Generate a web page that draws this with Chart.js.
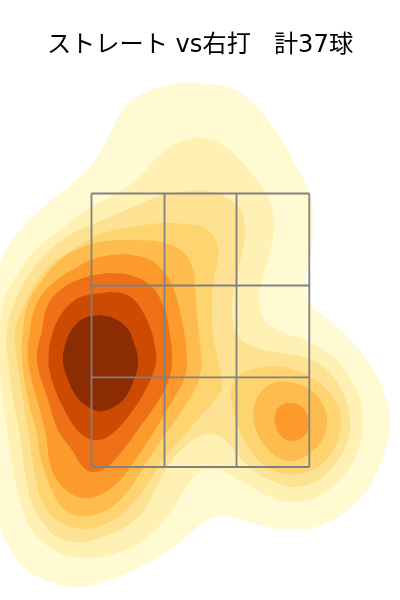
<!DOCTYPE html>
<html>
<head>
<meta charset="utf-8">
<script src="https://cdn.jsdelivr.net/npm/chart.js@4/dist/chart.umd.js"></script>
<style>
  html, body { margin: 0; padding: 0; background: #fff; }
  #chart_div { display: block; }
</style>
</head>
<body>
<canvas id="chart_div" width="400" height="600"></canvas>
<script>
var chartTitle = 'ストレート vs右打   計37球';

// strike zone edges
var zoneX = [91.5, 164.5, 236.5, 309.3];
var zoneY = [193.5, 285.5, 377.3, 467];

// density contours, lowest level first
var level1 = [[200,83],[227,87],[250,100],[273,127],[297,167],[309,192],[313,217],[312,243],[306,283],[310,303],[340,330],[367,360],[383,390],[390,423],[383,457],[367,490],[343,513],[317,527],[290,530],[267,527],[243,520],[223,515],[213,517],[200,525],[170,550],[140,567],[110,580],[80,587],[53,583],[27,570],[10,550],[0,527],[-10,490],[-15,400],[-12,300],[0,262],[20,230],[43,207],[73,183],[93,163],[107,140],[117,120],[133,100],[157,88],[180,83]];
var level2 = [[200,137],[220,143],[240,160],[257,180],[270,203],[274,227],[270,253],[262,280],[259,303],[265,320],[280,331],[305,340],[327,352],[347,373],[360,400],[363,423],[357,453],[340,480],[317,497],[293,502],[270,497],[243,482],[225,472],[210,469],[197,474],[185,490],[167,517],[143,540],[117,553],[87,558],[60,553],[40,540],[30,527],[23,510],[17,490],[12,463],[7,430],[3,400],[0,370],[-2,345],[0,327],[3,303],[10,287],[20,270],[33,253],[60,230],[90,208],[110,197],[133,183],[143,173],[160,155],[180,142]];
var level3 = [[200,190],[217,193],[230,200],[242,213],[245,233],[243,250],[240,262],[237,280],[233,296],[232,312],[237,335],[257,348],[280,353],[307,358],[327,370],[343,393],[350,420],[347,443],[333,467],[313,483],[293,487],[277,483],[257,473],[240,458],[225,440],[210,434],[198,437],[183,448],[170,463],[160,480],[150,500],[140,515],[127,526],[103,537],[80,542],[57,537],[43,523],[35,510],[28,490],[19,430],[13,400],[8,360],[7,330],[17,297],[30,273],[50,250],[73,233],[103,220],[133,207],[163,195]];
var level4 = [[200,225],[210,232],[217,243],[218,260],[213,283],[212,310],[213,335],[218,360],[222,387],[213,402],[200,417],[180,440],[163,459],[150,480],[127,510],[103,525],[80,529],[57,520],[45,507],[38,490],[33,463],[28,430],[23,400],[17,360],[15,330],[22,310],[33,287],[53,263],[77,247],[103,233],[133,227],[163,223]];
var level4b = [[230,393],[237,377],[257,368],[283,367],[310,377],[330,393],[340,413],[338,440],[323,463],[307,472],[287,474],[267,467],[250,450],[237,423]];
var level5 = [[133,240],[160,242],[183,252],[193,270],[195,287],[197,315],[200,343],[201,370],[193,393],[180,413],[167,432],[150,457],[123,497],[100,513],[80,516],[65,510],[55,497],[42,463],[36,430],[28,400],[22,360],[23,330],[28,303],[40,283],[60,260],[83,247],[107,241]];
var level5b = [[253,410],[260,393],[273,383],[288,382],[307,388],[322,403],[327,423],[322,440],[310,453],[293,461],[277,457],[263,443],[255,427]];
var level6 = [[127,254],[150,260],[165,273],[173,287],[178,303],[185,337],[187,363],[185,377],[177,393],[167,410],[157,427],[140,453],[120,480],[100,495],[83,498],[70,493],[57,480],[50,463],[45,430],[37,400],[28,360],[30,330],[37,303],[53,283],[77,267],[100,257]];
var level6b = [[274,420],[278,408],[290,403],[303,408],[309,423],[305,435],[292,441],[280,435]];
var level7 = [[107,273],[130,275],[150,285],[163,305],[170,335],[172,363],[168,382],[157,403],[140,427],[123,450],[107,467],[93,472],[83,467],[72,450],[58,430],[48,400],[37,360],[42,330],[47,307],[60,290],[83,278]];
var level8 = [[110,292],[125,294],[137,303],[150,327],[155,347],[156,363],[147,387],[133,410],[113,433],[97,440],[80,433],[63,407],[50,373],[49,350],[52,335],[59,318],[70,304],[84,296]];
var level9 = [[100,315],[113,318],[127,328],[133,340],[138,360],[135,377],[123,400],[103,411],[90,408],[77,397],[67,377],[63,360],[66,342],[73,328],[84,318]];

var contours = [level1, level2, level3, level4, level4b, level5, level5b, level6, level6b, level7, level8, level9];
var contourColors = ['#FFFAD2', '#FFF1B3', '#FEE293', '#FED470', '#FED470', '#FEBC4E', '#FEBC4E', '#FD9A2C', '#FD9A2C', '#EE7118', '#CC4A02', '#8B2C02'];

var datasets = [];

contours.forEach(function (c, i) {
    var pts = c.concat([c[0]]).map(function (p) { return { x: p[0], y: p[1] }; });
    datasets.push({
        data: pts,
        showLine: true,
        fill: 'shape',
        backgroundColor: contourColors[i],
        borderWidth: 0,
        pointRadius: 0,
        tension: 0.4,
        order: 100 - i
    });
});

// zone lines go over the contours
zoneX.forEach(function (x) {
    datasets.push({
        data: [{ x: x, y: zoneY[0] }, { x: x, y: zoneY[3] }],
        showLine: true, borderColor: '#808080', borderWidth: 1.8, pointRadius: 0, order: 1
    });
});
zoneY.forEach(function (y) {
    datasets.push({
        data: [{ x: zoneX[0], y: y }, { x: zoneX[3], y: y }],
        showLine: true, borderColor: '#808080', borderWidth: 1.8, pointRadius: 0, order: 1
    });
});

new Chart(document.getElementById('chart_div'), {
    type: 'scatter',
    data: { datasets: datasets },
    options: {
        responsive: false,
        animation: false,
        layout: { padding: 0 },
        scales: {
            x: { type: 'linear', min: 0, max: 400, display: false },
            y: { type: 'linear', min: 60, max: 600, reverse: true, display: false }
        },
        plugins: {
            legend: { display: false },
            tooltip: { enabled: false },
            title: {
                display: true,
                text: chartTitle,
                color: '#000',
                font: { family: '"DejaVu Sans", "Noto Sans CJK JP"', size: 24.2, weight: 'normal', lineHeight: 1 },
                padding: { top: 34, bottom: 1.8 }
            }
        }
    }
});
</script>
</body>
</html>
